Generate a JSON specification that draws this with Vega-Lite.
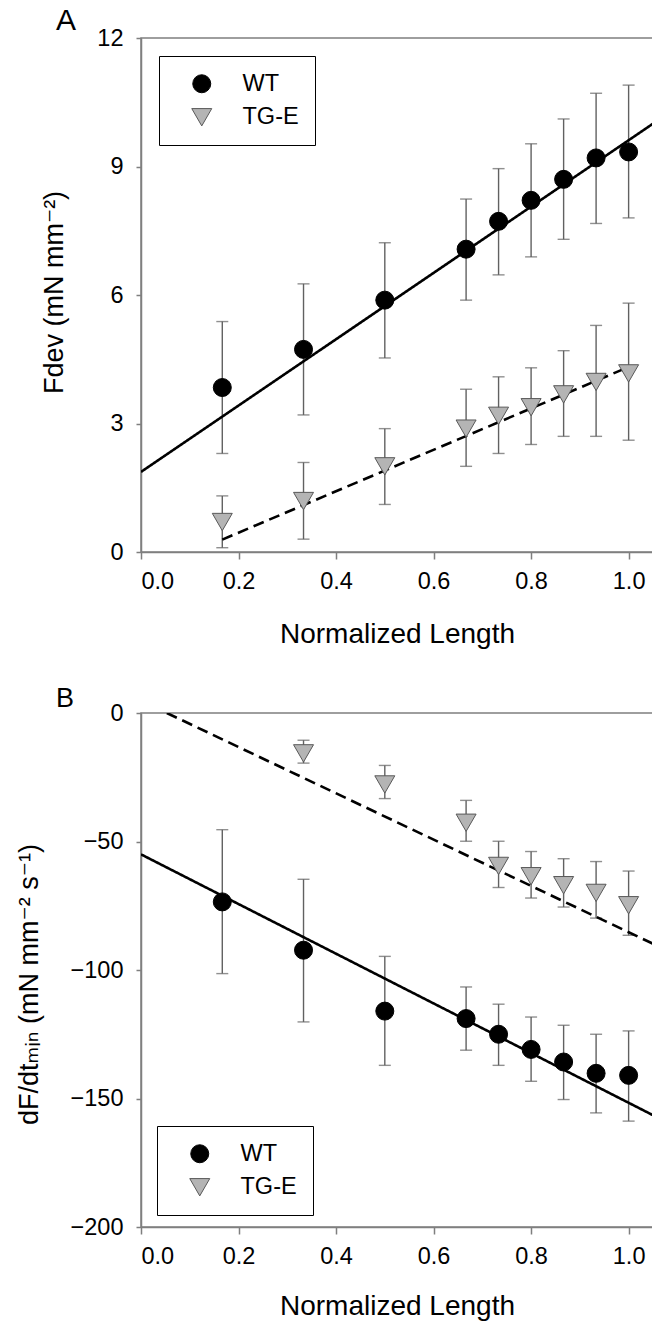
{
  "$schema": "https://vega.github.io/schema/vega-lite/v6.json",
  "autosize": {"type": "none"},
  "padding": {"left": 141, "top": 38, "right": 511, "bottom": 1287},
  "background": "white",
  "spacing": 161,
  "bounds": "flush",
  "datasets": {
    "fdev": [
      {"length": 0.1667, "group": "WT", "mean": 3.84, "lower": 2.30, "upper": 5.38},
      {"length": 0.3333, "group": "WT", "mean": 4.73, "lower": 3.20, "upper": 6.26},
      {"length": 0.5, "group": "WT", "mean": 5.88, "lower": 4.53, "upper": 7.22},
      {"length": 0.6667, "group": "WT", "mean": 7.07, "lower": 5.88, "upper": 8.24},
      {"length": 0.7333, "group": "WT", "mean": 7.72, "lower": 6.47, "upper": 8.95},
      {"length": 0.8, "group": "WT", "mean": 8.21, "lower": 6.89, "upper": 9.53},
      {"length": 0.8667, "group": "WT", "mean": 8.70, "lower": 7.30, "upper": 10.11},
      {"length": 0.9333, "group": "WT", "mean": 9.20, "lower": 7.67, "upper": 10.71},
      {"length": 1.0, "group": "WT", "mean": 9.34, "lower": 7.80, "upper": 10.90},
      {"length": 0.1667, "group": "TG-E", "mean": 0.70, "lower": 0.10, "upper": 1.31},
      {"length": 0.3333, "group": "TG-E", "mean": 1.19, "lower": 0.30, "upper": 2.09},
      {"length": 0.5, "group": "TG-E", "mean": 2.00, "lower": 1.11, "upper": 2.88},
      {"length": 0.6667, "group": "TG-E", "mean": 2.88, "lower": 2.00, "upper": 3.80},
      {"length": 0.7333, "group": "TG-E", "mean": 3.18, "lower": 2.30, "upper": 4.09},
      {"length": 0.8, "group": "TG-E", "mean": 3.38, "lower": 2.51, "upper": 4.30},
      {"length": 0.8667, "group": "TG-E", "mean": 3.68, "lower": 2.70, "upper": 4.70},
      {"length": 0.9333, "group": "TG-E", "mean": 3.97, "lower": 2.70, "upper": 5.29},
      {"length": 1.0, "group": "TG-E", "mean": 4.17, "lower": 2.61, "upper": 5.81}
    ],
    "fdevFit": [
      {"length": 0.0, "group": "WT", "value": 1.87},
      {"length": 1.05, "group": "WT", "value": 10.0},
      {"length": 0.1667, "group": "TG-E", "value": 0.29},
      {"length": 1.0, "group": "TG-E", "value": 4.32}
    ],
    "dfdt": [
      {"length": 0.1667, "group": "WT", "mean": -73.5, "lower": -101.4, "upper": -45.4},
      {"length": 0.3333, "group": "WT", "mean": -92.3, "lower": -120.2, "upper": -64.7},
      {"length": 0.5, "group": "WT", "mean": -116.0, "lower": -137.1, "upper": -94.7},
      {"length": 0.6667, "group": "WT", "mean": -118.9, "lower": -131.2, "upper": -106.6},
      {"length": 0.7333, "group": "WT", "mean": -125.0, "lower": -137.1, "upper": -113.3},
      {"length": 0.8, "group": "WT", "mean": -130.9, "lower": -143.3, "upper": -118.3},
      {"length": 0.8667, "group": "WT", "mean": -135.8, "lower": -150.4, "upper": -121.5},
      {"length": 0.9333, "group": "WT", "mean": -140.2, "lower": -155.6, "upper": -125.0},
      {"length": 1.0, "group": "WT", "mean": -141.0, "lower": -158.8, "upper": -123.7},
      {"length": 0.3333, "group": "TG-E", "mean": -15.7, "lower": -19.5, "upper": -10.6},
      {"length": 0.5, "group": "TG-E", "mean": -27.8, "lower": -33.3, "upper": -20.4},
      {"length": 0.6667, "group": "TG-E", "mean": -42.7, "lower": -49.9, "upper": -34.0},
      {"length": 0.7333, "group": "TG-E", "mean": -59.5, "lower": -67.9, "upper": -49.9},
      {"length": 0.8, "group": "TG-E", "mean": -63.5, "lower": -72.0, "upper": -53.9},
      {"length": 0.8667, "group": "TG-E", "mean": -67.0, "lower": -75.5, "upper": -56.7},
      {"length": 0.9333, "group": "TG-E", "mean": -70.0, "lower": -79.8, "upper": -57.8},
      {"length": 1.0, "group": "TG-E", "mean": -74.8, "lower": -86.5, "upper": -61.5}
    ],
    "dfdtFit": [
      {"length": 0.0, "group": "WT", "value": -55.0},
      {"length": 1.05, "group": "WT", "value": -156.5},
      {"length": 0.053, "group": "TG-E", "value": 0.0},
      {"length": 1.05, "group": "TG-E", "value": -89.8}
    ]
  },
  "vconcat": [
    {
      "width": 512,
      "height": 514,
      "title": {"text": "A", "anchor": "start", "frame": "group", "fontSize": 30, "fontWeight": "normal", "font": "Liberation Sans", "color": "black", "dx": -85, "baseline": "alphabetic", "offset": 0, "dy": 34},
      "layer": [
        {
          "data": {"name": "fdev"},
          "mark": {"type": "rule", "color": "#616161", "strokeWidth": 1.4},
          "encoding": {
            "x": {"field": "length", "type": "quantitative", "scale": {"domain": [0, 1.05], "nice": false, "zero": false},
                  "axis": {"values": [0, 0.2, 0.4, 0.6, 0.8, 1.0], "format": ".1f", "title": "Normalized Length", "titleFontSize": 28, "tickSize": 7, "labelPadding": 10, "titleY": 90, "titleBaseline": "alphabetic"}},
            "y": {"field": "lower", "type": "quantitative", "scale": {"domain": [0, 12], "nice": false},
                  "axis": {"values": [0, 3, 6, 9, 12], "title": "Fdev (mN mm⁻²)", "tickSize": 5, "labelPadding": 13, "titleX": -79, "titleY": 254, "titleAngle": -90, "titleAlign": "center", "titleBaseline": "alphabetic"}},
            "y2": {"field": "upper"}
          }
        },
        {
          "data": {"name": "fdev"},
          "mark": {"type": "tick", "orient": "horizontal", "size": 12, "thickness": 1.4, "color": "#616161"},
          "encoding": {"x": {"field": "length", "type": "quantitative"}, "y": {"field": "lower", "type": "quantitative"}}
        },
        {
          "data": {"name": "fdev"},
          "mark": {"type": "tick", "orient": "horizontal", "size": 12, "thickness": 1.4, "color": "#616161"},
          "encoding": {"x": {"field": "length", "type": "quantitative"}, "y": {"field": "upper", "type": "quantitative"}}
        },
        {
          "data": {"name": "fdevFit"},
          "mark": {"type": "line", "color": "black", "strokeWidth": 2.6, "clip": true},
          "encoding": {
            "x": {"field": "length", "type": "quantitative"},
            "y": {"field": "value", "type": "quantitative"},
            "strokeDash": {"field": "group", "type": "nominal", "scale": {"domain": ["WT", "TG-E"], "range": [[1, 0], [11, 6]]}, "legend": null}
          }
        },
        {
          "data": {"name": "fdev"},
          "mark": {"type": "point", "filled": true, "opacity": 1, "strokeWidth": 1},
          "encoding": {
            "x": {"field": "length", "type": "quantitative"},
            "y": {"field": "mean", "type": "quantitative"},
            "shape": {"field": "group", "type": "nominal", "scale": {"domain": ["WT", "TG-E"], "range": ["circle", "triangle-down"]},
                      "legend": {"title": null, "orient": "top-left", "offset": 18, "padding": 16, "strokeColor": "black", "fillColor": "white", "labelFontSize": 23.5, "labelFont": "Liberation Sans", "labelColor": "black", "symbolOffset": 15, "labelOffset": 29, "rowPadding": 8.5}},
            "fill": {"field": "group", "type": "nominal", "scale": {"domain": ["WT", "TG-E"], "range": ["#000000", "#b4b4b4"]}},
            "stroke": {"field": "group", "type": "nominal", "scale": {"domain": ["WT", "TG-E"], "range": ["#000000", "#595959"]}},
            "size": {"field": "group", "type": "nominal", "scale": {"domain": ["WT", "TG-E"], "range": [324, 400]}}
          }
        }
      ],
      "resolve": {"scale": {"strokeDash": "independent"}}
    },
    {
      "width": 512,
      "height": 514,
      "title": {"text": "B", "anchor": "start", "frame": "group", "fontSize": 27, "fontWeight": "normal", "font": "Liberation Sans", "color": "black", "dx": -85, "baseline": "alphabetic", "offset": 0, "dy": 33},
      "layer": [
        {
          "data": {"name": "dfdt"},
          "mark": {"type": "rule", "color": "#616161", "strokeWidth": 1.4},
          "encoding": {
            "x": {"field": "length", "type": "quantitative", "scale": {"domain": [0, 1.05], "nice": false, "zero": false},
                  "axis": {"values": [0, 0.2, 0.4, 0.6, 0.8, 1.0], "format": ".1f", "title": "Normalized Length", "titleFontSize": 28, "tickSize": 7, "labelPadding": 10, "titleY": 87, "titleBaseline": "alphabetic"}},
            "y": {"field": "lower", "type": "quantitative", "scale": {"domain": [-200, 0], "nice": false},
                  "axis": {"values": [-200, -150, -100, -50, 0], "title": "dF/dtₘᵢₙ (mN mm⁻² s⁻¹)", "tickSize": 5, "labelPadding": 13, "titleX": -104, "titleY": 271, "titleAngle": -90, "titleAlign": "center", "titleBaseline": "alphabetic"}},
            "y2": {"field": "upper"}
          }
        },
        {
          "data": {"name": "dfdt"},
          "mark": {"type": "tick", "orient": "horizontal", "size": 12, "thickness": 1.4, "color": "#616161"},
          "encoding": {"x": {"field": "length", "type": "quantitative"}, "y": {"field": "lower", "type": "quantitative"}}
        },
        {
          "data": {"name": "dfdt"},
          "mark": {"type": "tick", "orient": "horizontal", "size": 12, "thickness": 1.4, "color": "#616161"},
          "encoding": {"x": {"field": "length", "type": "quantitative"}, "y": {"field": "upper", "type": "quantitative"}}
        },
        {
          "data": {"name": "dfdtFit"},
          "mark": {"type": "line", "color": "black", "strokeWidth": 2.6, "clip": true},
          "encoding": {
            "x": {"field": "length", "type": "quantitative"},
            "y": {"field": "value", "type": "quantitative"},
            "strokeDash": {"field": "group", "type": "nominal", "scale": {"domain": ["WT", "TG-E"], "range": [[1, 0], [11, 6]]}, "legend": null}
          }
        },
        {
          "data": {"name": "dfdt"},
          "mark": {"type": "point", "filled": true, "opacity": 1, "strokeWidth": 1},
          "encoding": {
            "x": {"field": "length", "type": "quantitative"},
            "y": {"field": "mean", "type": "quantitative"},
            "shape": {"field": "group", "type": "nominal", "scale": {"domain": ["WT", "TG-E"], "range": ["circle", "triangle-down"]},
                      "legend": {"title": null, "orient": "none", "legendX": 16, "legendY": 413, "padding": 16, "strokeColor": "black", "fillColor": "white", "labelFontSize": 23.5, "labelFont": "Liberation Sans", "labelColor": "black", "symbolOffset": 15, "labelOffset": 29, "rowPadding": 8.5}},
            "fill": {"field": "group", "type": "nominal", "scale": {"domain": ["WT", "TG-E"], "range": ["#000000", "#b4b4b4"]}},
            "stroke": {"field": "group", "type": "nominal", "scale": {"domain": ["WT", "TG-E"], "range": ["#000000", "#595959"]}},
            "size": {"field": "group", "type": "nominal", "scale": {"domain": ["WT", "TG-E"], "range": [324, 400]}}
          }
        }
      ],
      "resolve": {"scale": {"strokeDash": "independent"}}
    }
  ],
  "resolve": {"scale": {"y": "independent", "shape": "independent", "fill": "independent", "stroke": "independent", "size": "independent", "strokeDash": "independent"}, "legend": {"shape": "independent", "fill": "independent", "stroke": "independent", "size": "independent"}},
  "config": {
    "font": "Liberation Sans",
    "view": {"stroke": "#7f7f7f", "strokeWidth": 1.5},
    "axis": {"domainColor": "#7f7f7f", "domainWidth": 1.5, "tickColor": "#7f7f7f", "tickWidth": 1.5, "grid": false,
             "labelFontSize": 23.5, "labelColor": "black", "labelFont": "Liberation Sans",
             "titleFontSize": 27, "titleFontWeight": "normal", "titleColor": "black", "titleFont": "Liberation Sans, DejaVu Sans"},
    "legend": {"symbolStrokeWidth": 1}
  }
}
